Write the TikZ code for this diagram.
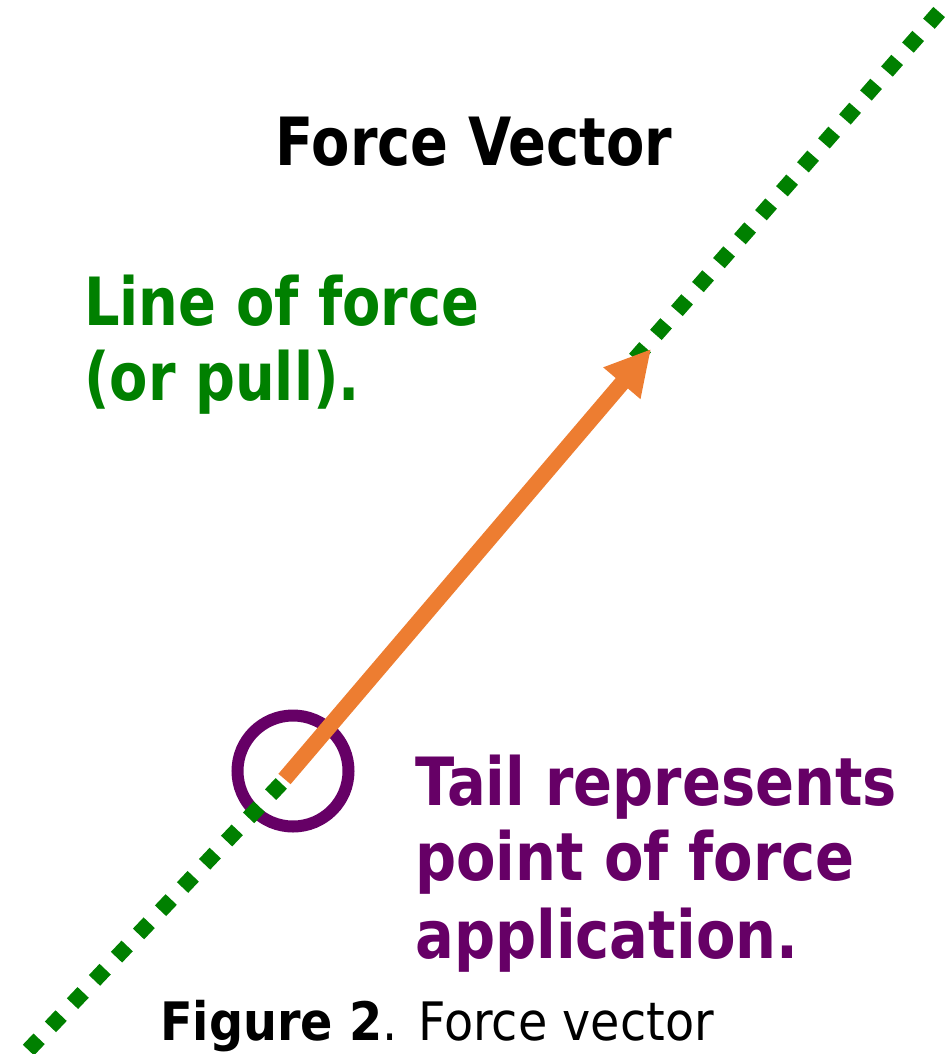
\documentclass[tikz,border=0pt]{standalone}
\usepackage{fontspec}
\usetikzlibrary{arrows.meta}
% Narrow bold sans for the headings and labels, a slightly wider one for the caption
\newfontfamily\headfont{DejaVu Sans}[FakeStretch=0.84]
\newfontfamily\notefont{DejaVu Sans}[FakeStretch=0.865]
\newfontfamily\capfont{DejaVu Sans}[FakeStretch=0.9]
\definecolor{forcegreen}{RGB}{0,128,0}
\definecolor{tailpurple}{RGB}{102,0,102}
\definecolor{vectororange}{RGB}{237,125,49}
\tikzset{
  bigtext/.style={inner sep=0pt, font=\headfont\bfseries\fontsize{66.5}{76}\selectfont},
  notetext/.style={inner sep=0pt, font=\notefont\bfseries\fontsize{66.5}{76}\selectfont},
  captext/.style={inner sep=0pt, font=\capfont\fontsize{53}{60}\selectfont},
  forceline/.style={draw=forcegreen, line width=15.5pt, line cap=butt},
  tailring/.style={circle, draw=tailpurple, line width=12pt, minimum size=111pt, inner sep=0pt},
  forcearrow/.style={draw=vectororange, line width=16pt,
    -{Triangle[length=45pt,width=45.5pt,fill=vectororange]}},
}
\begin{document}
\begin{tikzpicture}[x=1pt,y=-1pt]
\useasboundingbox (0,0) rectangle (946,1054);
\clip (0,0) rectangle (946,1054);

% key points
\coordinate (tail) at (284.5,779);
\coordinate (tip) at (651,349);
\coordinate (lowstart) at (281.3,783.4);
\coordinate (lowend) at (-10,1090.6);
\coordinate (upstart) at (619,377);
\coordinate (upend) at (976,-30);

% point of application
\node[tailring] (ring) at (293,771) {};

% line of force: square dots
\draw[forceline, dash pattern=on 15.5pt off 16.5pt] (lowstart) -- (lowend);
\draw[forceline, dash pattern=on 15.5pt off 16.35pt, dash phase=7.75pt] (upstart) -- (upend);

% the force vector
\draw[forcearrow] (tail) -- (tip);

% texts
\node[bigtext, anchor=base] (title) at (474,165.7) {Force Vector};
\node[bigtext, text=forcegreen, anchor=base west] (lof1) at (84,325) {Line of force};
\node[bigtext, text=forcegreen, anchor=base west] (lof2) at (84,400.7) {(or pull).};
\node[notetext, text=tailpurple, anchor=base west] (tr1) at (415,805) {Tail represents};
\node[notetext, text=tailpurple, anchor=base west] (tr2) at (415,880.7) {point of force};
\node[notetext, text=tailpurple, anchor=base west] (tr3) at (415,958) {application.};
\node[captext, anchor=base west] (caption) at (160,1040.7) {\textbf{Figure 2}. Force vector};
\end{tikzpicture}
\end{document}
